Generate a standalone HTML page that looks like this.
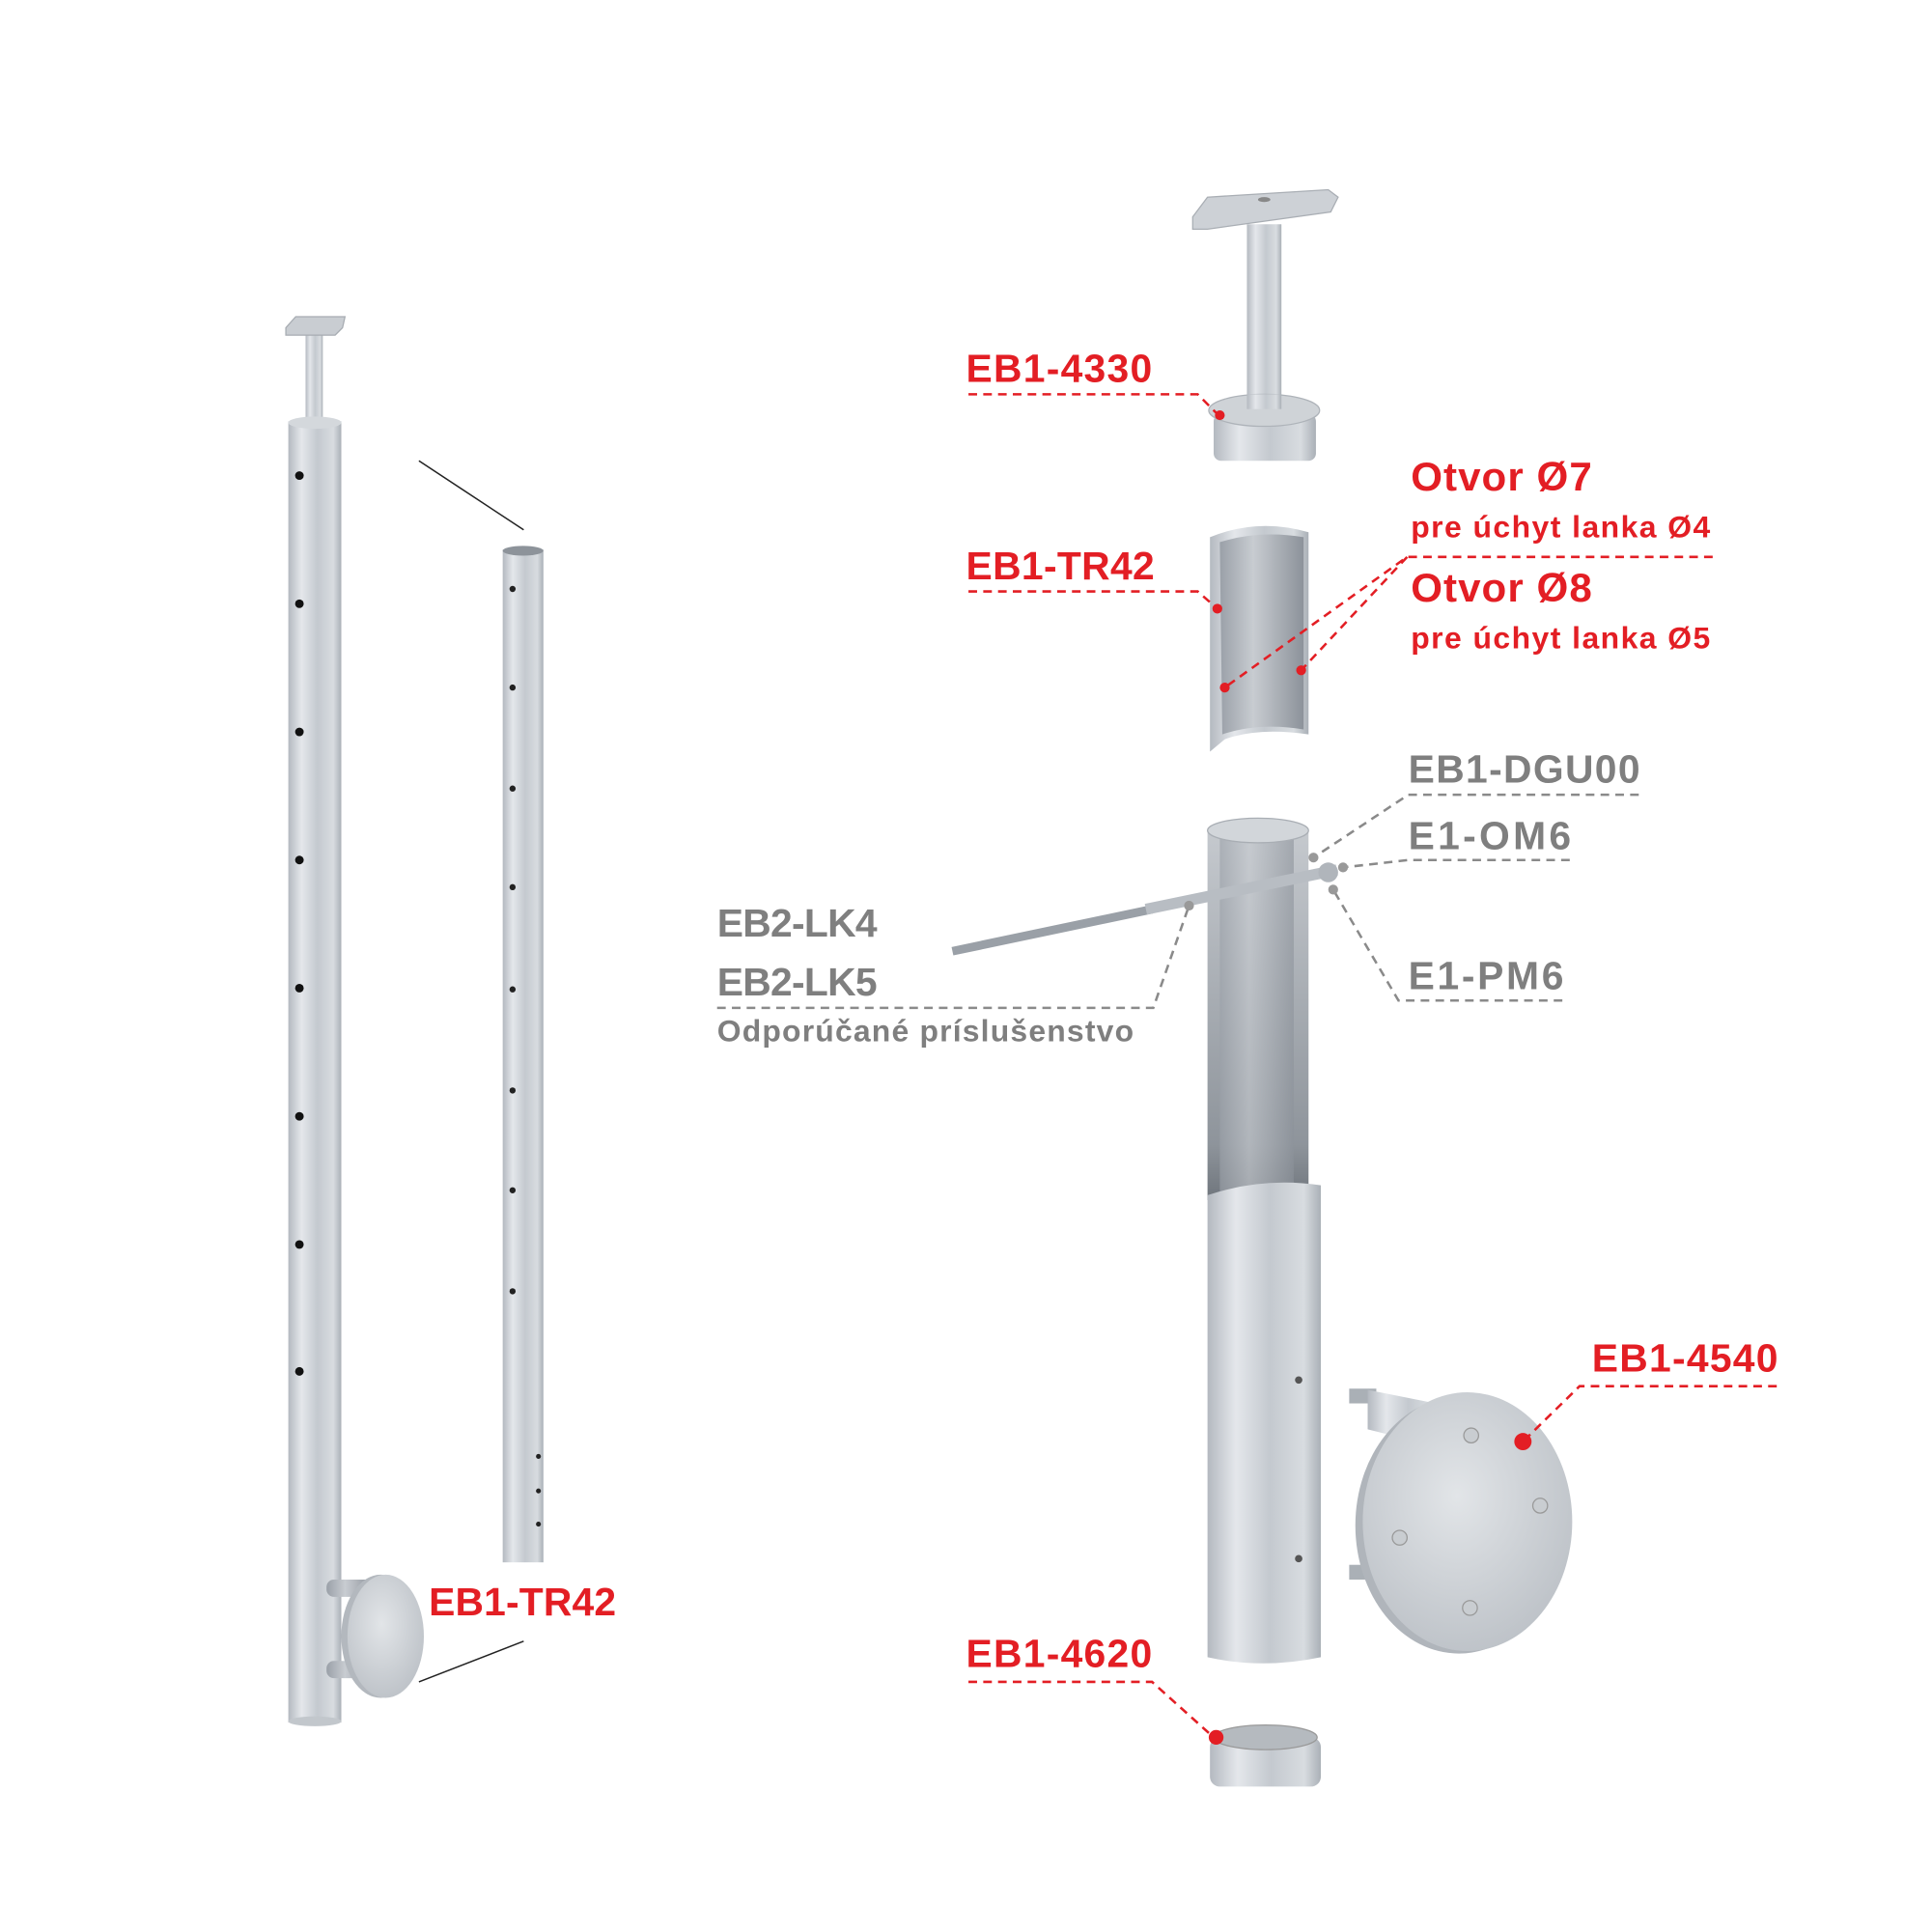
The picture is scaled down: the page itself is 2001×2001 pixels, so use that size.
<!DOCTYPE html>
<html><head><meta charset="utf-8"><style>
html,body{margin:0;padding:0;background:#fff}
svg{display:block}
text{font-family:"Liberation Sans",sans-serif;font-weight:bold}
.r{fill:#e31e24}.g{fill:#7f7f7f}
.dr{stroke:#e31e24;stroke-width:2;stroke-dasharray:7 5;fill:none}
.dg{stroke:#8a8a8a;stroke-width:2;stroke-dasharray:7 5;fill:none}
</style></head><body>
<svg width="2001" height="2001" viewBox="0 0 1568 1568" xmlns="http://www.w3.org/2000/svg">
<defs>
<linearGradient id="m" x1="0" x2="1" y1="0" y2="0">
<stop offset="0" stop-color="#b4b9c0"/><stop offset="0.25" stop-color="#e4e7eb"/><stop offset="0.55" stop-color="#c4c9cf"/><stop offset="0.85" stop-color="#d8dce0"/><stop offset="1" stop-color="#aab0b7"/></linearGradient>
<linearGradient id="in" x1="0" x2="1" y1="0" y2="0">
<stop offset="0" stop-color="#9aa0a8"/><stop offset="0.4" stop-color="#c8ccd1"/><stop offset="1" stop-color="#8c929a"/></linearGradient>
<linearGradient id="inv" x1="0" x2="0" y1="0" y2="1">
<stop offset="0" stop-color="#c5c9ce"/><stop offset="0.85" stop-color="#8e949b"/><stop offset="1" stop-color="#6f757c"/></linearGradient>
<radialGradient id="d" cx="0.45" cy="0.4" r="0.7"><stop offset="0" stop-color="#e2e5e8"/><stop offset="1" stop-color="#b9bec4"/></radialGradient>
</defs>
<rect width="1568" height="1568" fill="#fff"/>
<rect x="248" y="272" width="14" height="75" fill="url(#m)"/>
<path d="M232 266 L240 257 L280 257 L278 266 L272 272 L232 272Z" fill="#c9cdd2" stroke="#a7acb2"/>
<rect x="234" y="342" width="43" height="1056" fill="url(#m)"/>
<ellipse cx="255.5" cy="343" rx="21.5" ry="5" fill="#d4d8dc"/>
<ellipse cx="255.5" cy="1397" rx="21.5" ry="4" fill="#c2c7cc"/>
<g fill="#111"><circle cx="243" cy="386" r="3.5"/><circle cx="243" cy="490" r="3.5"/><circle cx="243" cy="594" r="3.5"/><circle cx="243" cy="698" r="3.5"/><circle cx="243" cy="802" r="3.5"/><circle cx="243" cy="906" r="3.5"/><circle cx="243" cy="1010" r="3.5"/><circle cx="243" cy="1113" r="3.5"/></g>
<rect x="265" y="1282" width="38" height="14" rx="6" fill="url(#in)"/>
<rect x="265" y="1348" width="38" height="14" rx="6" fill="url(#in)"/>
<ellipse cx="309" cy="1328" rx="32" ry="50" fill="#b3b8be"/>
<ellipse cx="313" cy="1328" rx="31" ry="50" fill="url(#d)"/>
<rect x="408" y="446" width="33" height="822" fill="url(#m)"/>
<ellipse cx="424.5" cy="447" rx="16.5" ry="4" fill="#8d939a"/>
<g fill="#222"><circle cx="416" cy="478" r="2.5"/><circle cx="416" cy="558" r="2.5"/><circle cx="416" cy="640" r="2.5"/><circle cx="416" cy="720" r="2.5"/><circle cx="416" cy="803" r="2.5"/><circle cx="416" cy="885" r="2.5"/><circle cx="416" cy="966" r="2.5"/><circle cx="416" cy="1048" r="2.5"/><circle cx="437" cy="1182" r="2"/><circle cx="437" cy="1210" r="2"/><circle cx="437" cy="1237" r="2"/></g>
<line x1="340" y1="374" x2="425" y2="430" stroke="#222" stroke-width="1.2"/>
<line x1="340" y1="1365" x2="425" y2="1332" stroke="#222" stroke-width="1.2"/>
<rect x="1012" y="182" width="28" height="145" fill="url(#m)"/>
<path d="M968 176 L980 160 L1078 154 L1086 160 L1080 172 L980 186 L968 186Z" fill="#cdd1d6" stroke="#a9aeb4"/>
<ellipse cx="1026" cy="162" rx="5" ry="2" fill="#888"/>
<rect x="985" y="336" width="83" height="38" rx="6" fill="url(#m)"/>
<ellipse cx="1026" cy="333" rx="45" ry="13" fill="#cfd3d7" stroke="#aeb3b9"/>
<rect x="1012" y="320" width="28" height="12" fill="url(#m)"/>
<path d="M982 436 Q1021 420 1062 432 L1062 596 Q1021 590 994 600 L982 610Z" fill="url(#m)"/>
<path d="M990 440 Q1022 430 1058 436 L1058 592 Q1022 586 992 596Z" fill="url(#in)"/>
<rect x="980" y="674" width="82" height="300" fill="url(#inv)"/>
<rect x="990" y="674" width="60" height="300" fill="url(#in)" opacity="0.6"/>
<ellipse cx="1021" cy="674" rx="41" ry="10" fill="#d2d6da" stroke="#a9aeb4"/>
<path d="M980 970 Q1025 955 1072 962 L1072 1345 Q1025 1355 980 1345Z" fill="url(#m)"/>
<circle cx="1054" cy="1120" r="3" fill="#555"/><circle cx="1054" cy="1265" r="3" fill="#555"/>
<line x1="773" y1="772" x2="935" y2="738" stroke="#9aa0a7" stroke-width="7"/>
<line x1="930" y1="738" x2="1085" y2="706" stroke="#b8bdc3" stroke-width="9"/>
<circle cx="1078" cy="708" r="8" fill="#b0b5bb"/>
<rect x="1095" y="1127" width="22" height="12" fill="#aab0b6"/>
<rect x="1095" y="1270" width="22" height="12" fill="#aab0b6"/>
<path d="M1110 1128 L1170 1140 L1170 1175 L1110 1160Z" fill="url(#m)"/>
<ellipse cx="1184" cy="1238" rx="84" ry="104" fill="#b0b5bb"/>
<ellipse cx="1191" cy="1235" rx="85" ry="105" fill="url(#d)"/>
<g fill="#c9cdd1" stroke="#999"><circle cx="1194" cy="1165" r="6"/><circle cx="1250" cy="1222" r="6"/><circle cx="1136" cy="1248" r="6"/><circle cx="1193" cy="1305" r="6"/></g>
<rect x="982" y="1410" width="90" height="40" rx="8" fill="url(#m)"/>
<ellipse cx="1027" cy="1410" rx="42" ry="10" fill="#b5babf" stroke="#999"/>
<g class="r" font-size="32">
<text x="784" y="310" textLength="151">EB1-4330</text>
<text x="784" y="470" textLength="153">EB1-TR42</text>
<text x="784" y="1353" textLength="151">EB1-4620</text>
<text x="1292" y="1113" textLength="151">EB1-4540</text>
<text x="348" y="1311" textLength="152">EB1-TR42</text>
<text x="1145" y="398" font-size="33" textLength="147">Otvor Ø7</text>
<text x="1145" y="488" font-size="33" textLength="147">Otvor Ø8</text>
<text x="1145" y="436" font-size="25" textLength="243">pre úchyt lanka Ø4</text>
<text x="1145" y="526" font-size="25" textLength="243">pre úchyt lanka Ø5</text>
</g>
<path class="dr" d="M786 320 H972 L988 336"/>
<path class="dr" d="M786 480 H972 L988 494"/>
<path class="dr" d="M786 1365 H935 L985 1410"/>
<path class="dr" d="M1442 1125 H1282 L1236 1170"/>
<path class="dr" d="M1390 452 H1142 L994 558 M1142 452 L1056 544"/>
<g fill="#e31e24"><circle cx="990" cy="337" r="4"/><circle cx="988" cy="494" r="4"/><circle cx="994" cy="558" r="4"/><circle cx="1056" cy="544" r="4"/><circle cx="987" cy="1410" r="6"/><circle cx="1236" cy="1170" r="7"/></g>
<g class="g" font-size="32">
<text x="1143" y="635" textLength="188">EB1-DGU00</text>
<text x="1143" y="689" textLength="132">E1-OM6</text>
<text x="1143" y="803" textLength="126">E1-PM6</text>
<text x="582" y="760" textLength="130">EB2-LK4</text>
<text x="582" y="808" textLength="130">EB2-LK5</text>
<text x="582" y="845" font-size="25" textLength="338">Odporúčané príslušenstvo</text>
</g>
<path class="dg" d="M1330 645 H1143 L1066 696"/>
<path class="dg" d="M1274 698 H1143 L1090 704"/>
<path class="dg" d="M1268 812 H1135 L1082 722"/>
<path class="dg" d="M582 818 H936 L965 735"/>
<g fill="#999"><circle cx="1066" cy="696" r="4"/><circle cx="1090" cy="704" r="4"/><circle cx="1082" cy="722" r="4"/><circle cx="965" cy="735" r="4"/></g>
</svg>
</body></html>
